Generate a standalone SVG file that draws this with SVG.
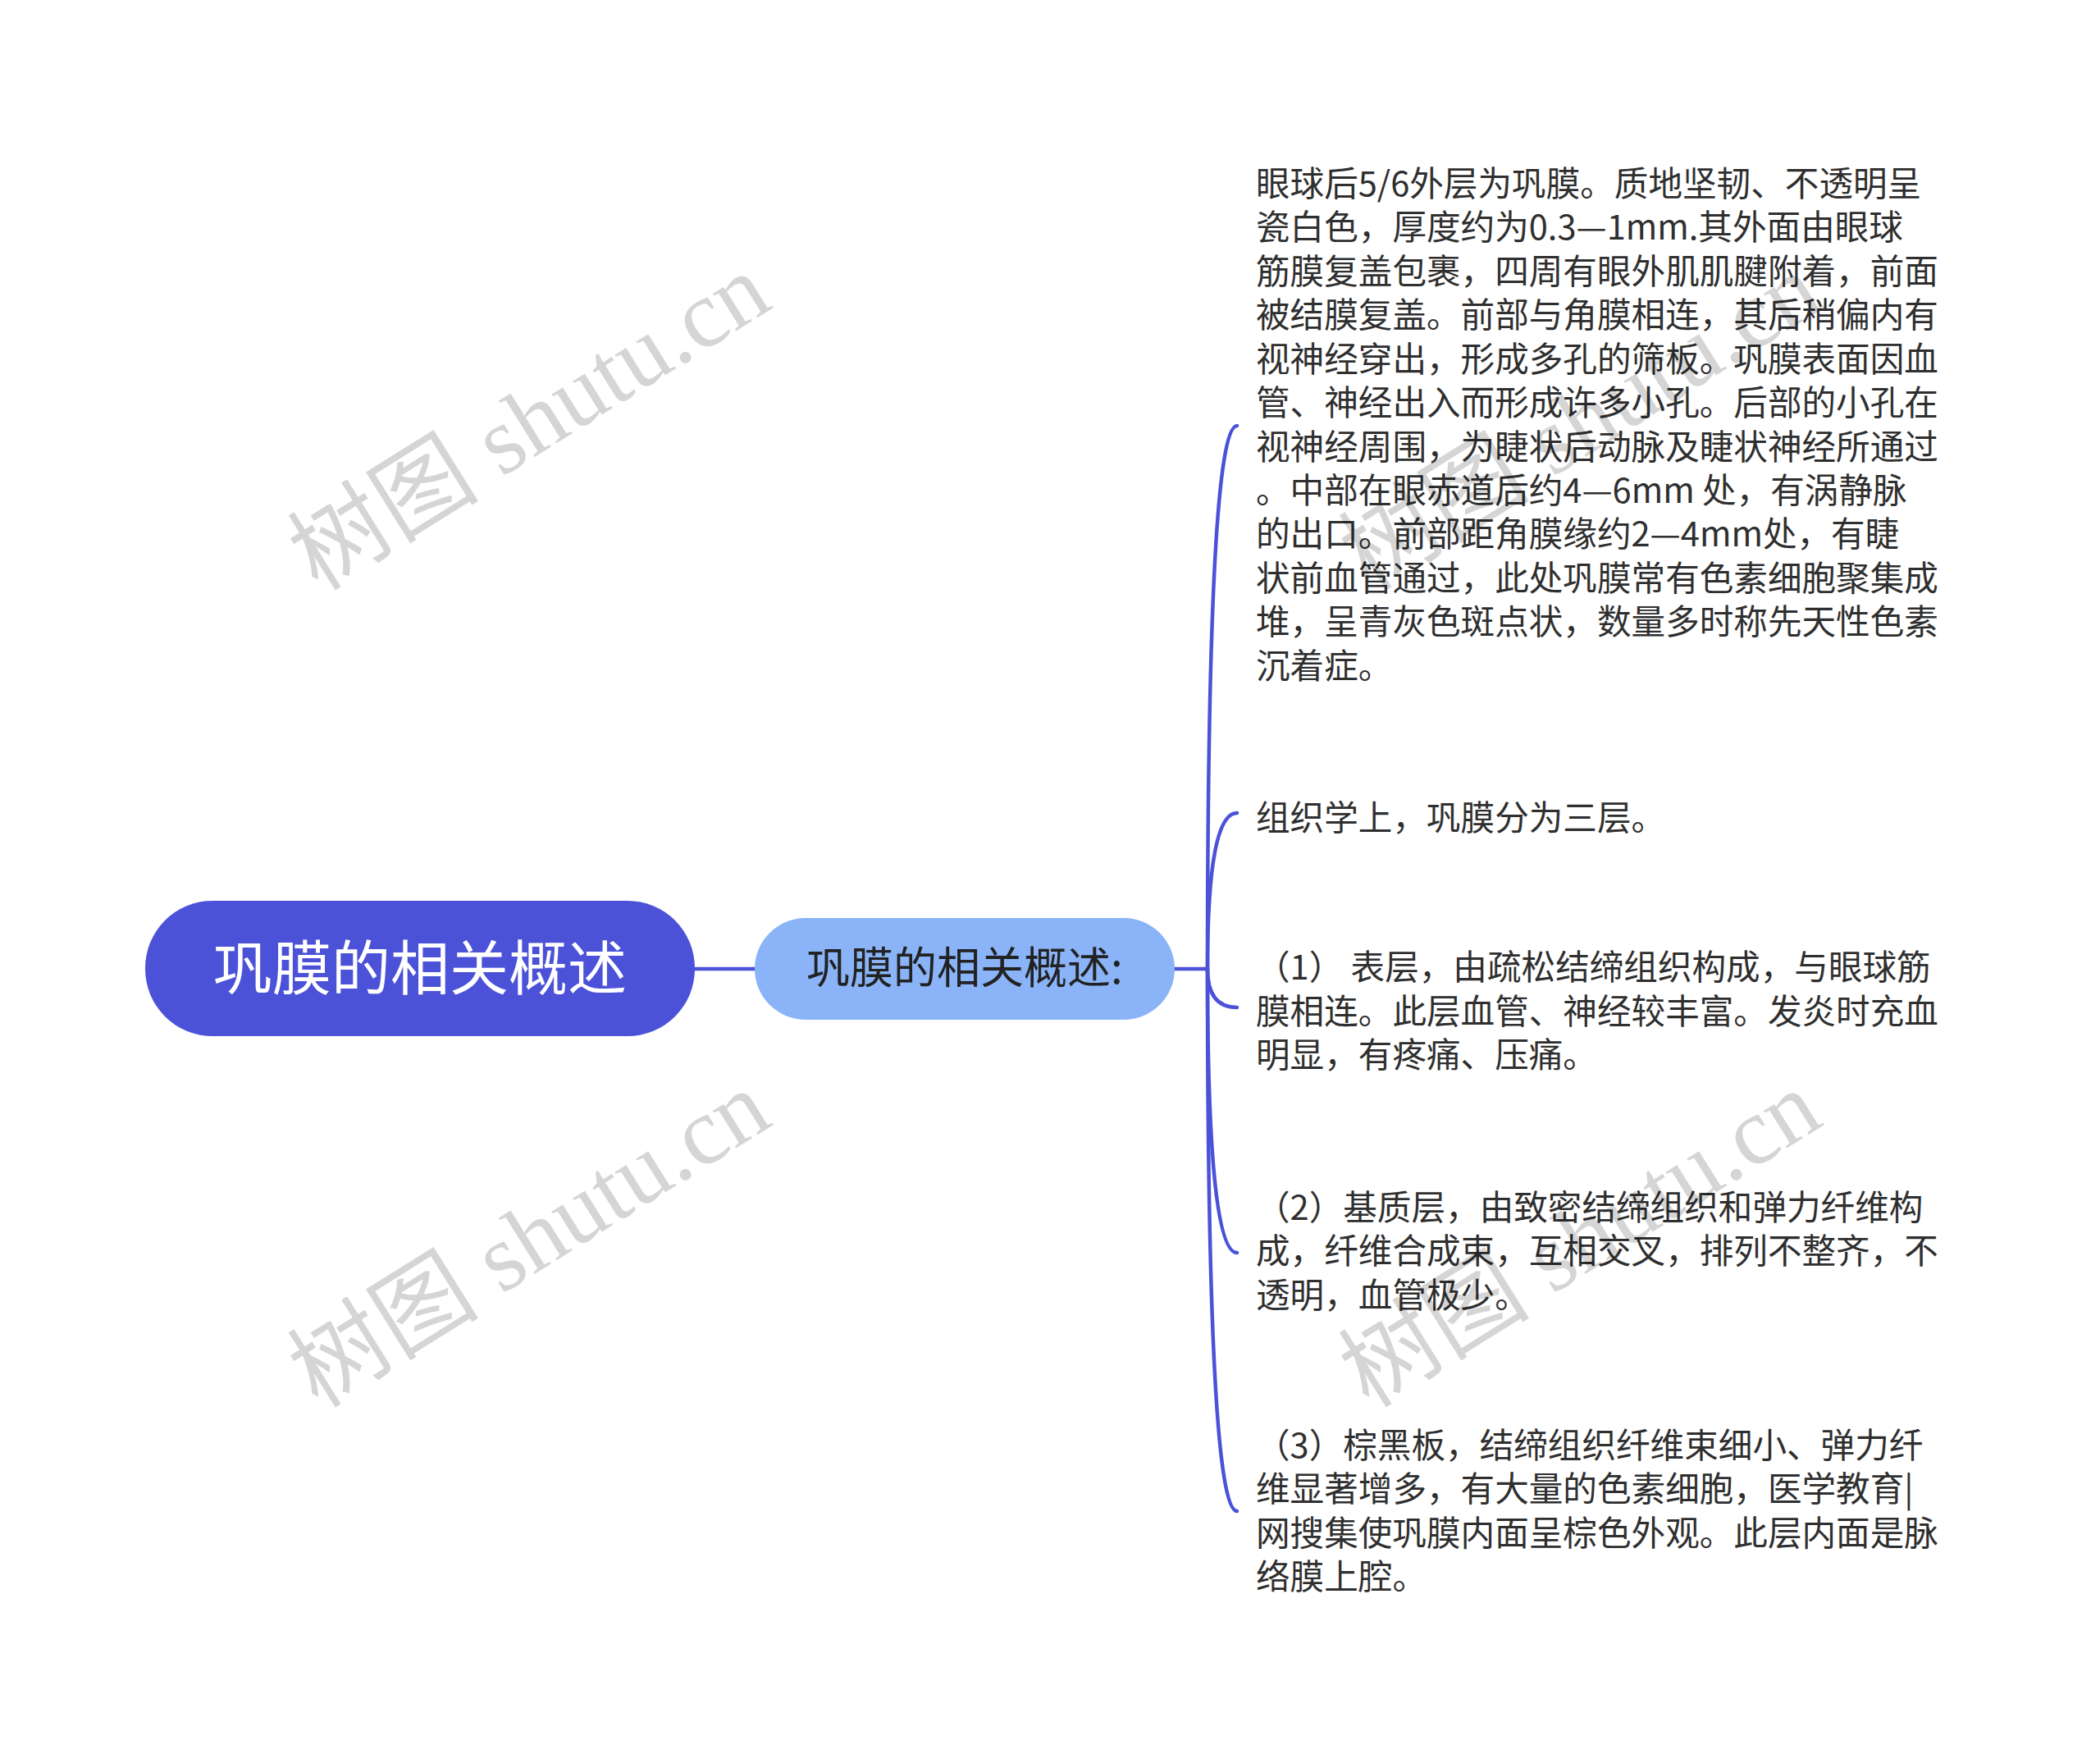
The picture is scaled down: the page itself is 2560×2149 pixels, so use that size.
<svg xmlns="http://www.w3.org/2000/svg" width="2560" height="2149" viewBox="0 0 2560 2149">
<style>
.conn{fill:none;stroke:#4b52d8;stroke-width:4.5;stroke-linecap:round}
.body{font-family:"Noto Sans CJK SC","Noto Sans",sans-serif;font-size:41.6px;fill:#2f2f2f}
.wm{font-family:"Liberation Serif","Noto Sans CJK SC",serif;font-size:117px;fill:#000;opacity:0.16}
</style>
<rect width="2560" height="2149" fill="#ffffff"/>
<g id="connectors">
<path class="conn" d="M847 1181 H920"/>
<path class="conn" d="M1432 1181 H1472"/>
<path class="conn" d="M1472 1181 Q1472 519 1508 519"/>
<path class="conn" d="M1472 1181 Q1472 991 1508 991"/>
<path class="conn" d="M1472 1181 Q1472 1228 1508 1228"/>
<path class="conn" d="M1472 1181 Q1472 1527 1508 1527"/>
<path class="conn" d="M1472 1181 Q1472 1842 1508 1842"/>
</g>
<g id="root">
<rect x="177" y="1098" width="670" height="165" rx="82" fill="#4b52d8"/>
<text x="512" y="1206" text-anchor="middle" font-family="Noto Sans CJK SC,sans-serif" font-size="72" fill="#ffffff">巩膜的相关概述</text>
</g>
<g id="sub">
<rect x="920" y="1119" width="512" height="124" rx="62" fill="#8ab4f7"/>
<text x="1176" y="1199" text-anchor="middle" font-family="Noto Sans CJK SC,sans-serif" font-size="53" fill="#222222">巩膜的相关概述:</text>
</g>
<g id="leaf1" class="body">
<text x="1531" y="239">眼球后5/6外层为巩膜。质地坚韧、不透明呈</text>
<text x="1531" y="292">瓷白色，厚度约为0.3—1mm.其外面由眼球</text>
<text x="1531" y="346">筋膜复盖包裹，四周有眼外肌肌腱附着，前面</text>
<text x="1531" y="399">被结膜复盖。前部与角膜相连，其后稍偏内有</text>
<text x="1531" y="453">视神经穿出，形成多孔的筛板。巩膜表面因血</text>
<text x="1531" y="506">管、神经出入而形成许多小孔。后部的小孔在</text>
<text x="1531" y="560">视神经周围，为睫状后动脉及睫状神经所通过</text>
<text x="1531" y="613">。中部在眼赤道后约4—6mm 处，有涡静脉</text>
<text x="1531" y="666">的出口。前部距角膜缘约2—4mm处，有睫</text>
<text x="1531" y="720">状前血管通过，此处巩膜常有色素细胞聚集成</text>
<text x="1531" y="773">堆，呈青灰色斑点状，数量多时称先天性色素</text>
<text x="1531" y="827">沉着症。</text>
</g>
<g id="leaf2" class="body">
<text x="1531" y="1012">组织学上，巩膜分为三层。</text>
</g>
<g id="leaf3" class="body">
<text x="1531" y="1194" xml:space="preserve">（1） 表层，由疏松结缔组织构成，与眼球筋</text>
<text x="1531" y="1248">膜相连。此层血管、神经较丰富。发炎时充血</text>
<text x="1531" y="1301">明显，有疼痛、压痛。</text>
</g>
<g id="leaf4" class="body">
<text x="1531" y="1487">（2）基质层，由致密结缔组织和弹力纤维构</text>
<text x="1531" y="1540">成，纤维合成束，互相交叉，排列不整齐，不</text>
<text x="1531" y="1594">透明，血管极少。</text>
</g>
<g id="leaf5" class="body">
<text x="1531" y="1777">（3）棕黑板，结缔组织纤维束细小、弹力纤</text>
<text x="1531" y="1830">维显著增多，有大量的色素细胞，医学教育|</text>
<text x="1531" y="1884">网搜集使巩膜内面呈棕色外观。此层内面是脉</text>
<text x="1531" y="1937">络膜上腔。</text>
</g>
<g id="watermarks">
<text class="wm" text-anchor="middle" transform="translate(645 514) rotate(-32)" y="40">树图 shutu.cn</text>
<text class="wm" text-anchor="middle" transform="translate(645 1510) rotate(-32)" y="40">树图 shutu.cn</text>
<text class="wm" text-anchor="middle" transform="translate(1926 514) rotate(-32)" y="40">树图 shutu.cn</text>
<text class="wm" text-anchor="middle" transform="translate(1926 1510) rotate(-32)" y="40">树图 shutu.cn</text>
</g>
</svg>
